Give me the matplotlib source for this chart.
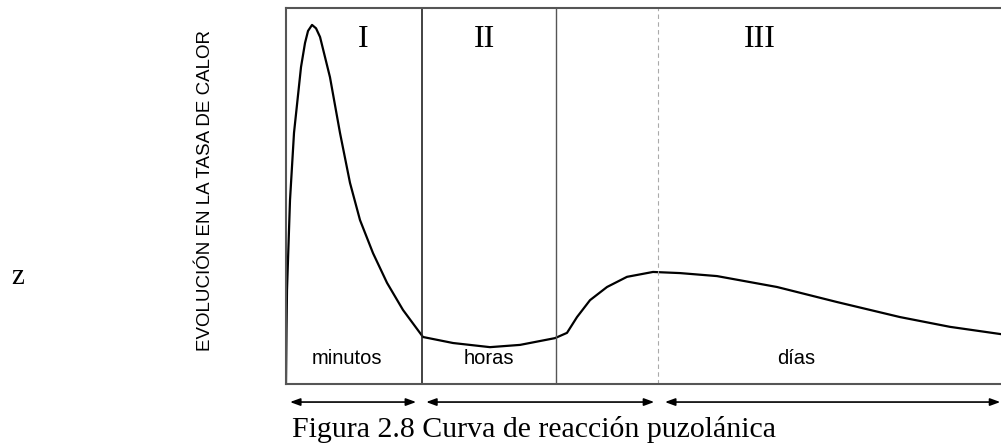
import numpy as np
from matplotlib import pyplot as plt

# curve (time in % of box width, heat rate in % of box height)
tiempo = [0.0, 0.07, 0.14, 0.56, 1.12, 2.10, 2.66, 3.08, 3.64, 4.20, 4.76, 6.15,
          7.55, 8.95, 10.35, 12.17, 14.13, 16.36, 19.16, 23.36, 28.53, 32.73,
          37.62, 39.30, 40.70, 42.52, 44.90, 47.69, 51.33, 55.10, 60.28, 68.67,
          77.06, 85.87, 92.87, 99.86]
calor = [0.3, 14.4, 25.0, 48.9, 66.8, 84.3, 90.7, 93.9, 95.5, 94.6, 92.3, 81.6,
         66.8, 53.5, 43.6, 34.8, 26.9, 19.7, 12.5, 10.9, 9.8, 10.4,
         12.2, 13.6, 17.8, 22.3, 25.8, 28.5, 29.8, 29.5, 28.7, 25.8,
         21.8, 17.8, 15.2, 13.3]

# stage boundaries
limites = [19.02, 37.76]
limite_dashed = 52.03

etapas = ["I", "II", "III"]
etapas_x = [10.8, 27.8, 66.3]
unidades = ["minutos", "horas", "días"]
unidades_x = [8.5, 28.4, 71.3]

# arrows under the box (start, end)
flechas = [(0.56, 18.2), (19.6, 51.5), (53.0, 99.9)]

fig = plt.figure(figsize=(10.01, 4.44), dpi=100)
ax = fig.add_axes([286 / 1001, 60 / 444, 715 / 1001, 376 / 444])

ax.plot(tiempo, calor, color="black", lw=1.6, solid_joinstyle="round")

ax.axvline(limites[0], color="#222222", lw=1.2)
ax.axvline(limites[1], color="#555555", lw=1.0)
ax.axvline(limite_dashed, color="#aaaaaa", lw=0.8, ls=(0, (4, 3)))

for lbl, x in zip(etapas, etapas_x):
    ax.text(x, 91.5, lbl, ha="center", va="center", fontsize=23,
            family="Liberation Serif")
for lbl, x in zip(unidades, unidades_x):
    ax.text(x, 5.3, lbl, ha="center", va="baseline", fontsize=14.5,
            family="Liberation Sans")

for a, b in flechas:
    ax.annotate("", xy=(b, -0.048), xytext=(a, -0.048),
                xycoords=("data", "axes fraction"),
                textcoords=("data", "axes fraction"),
                arrowprops=dict(arrowstyle="<|-|>,head_length=0.6,head_width=0.22",
                                color="black", lw=1.2, shrinkA=0, shrinkB=0),
                annotation_clip=False)

ax.set_xlim(0, 100)
ax.set_ylim(0, 100)
ax.set_xticks([])
ax.set_yticks([])
ax.spines["right"].set_visible(False)
for s in ["left", "top", "bottom"]:
    ax.spines[s].set_color("#555555")
    ax.spines[s].set_linewidth(1.5)

fig.text(205 / 1001, 0.57, "EVOLUCIÓN EN LA TASA DE CALOR", rotation=90,
         ha="center", va="center", fontsize=13.5, family="Liberation Sans")
fig.text(18 / 1001, 0.376, "z", ha="center", va="center", fontsize=21,
         family="Liberation Serif")
fig.text(534 / 1001, 0.016, "Figura 2.8 Curva de reacción puzolánica",
         ha="center", va="baseline", fontsize=21.5, family="Liberation Serif")

fig.savefig("out.png", dpi=100)
